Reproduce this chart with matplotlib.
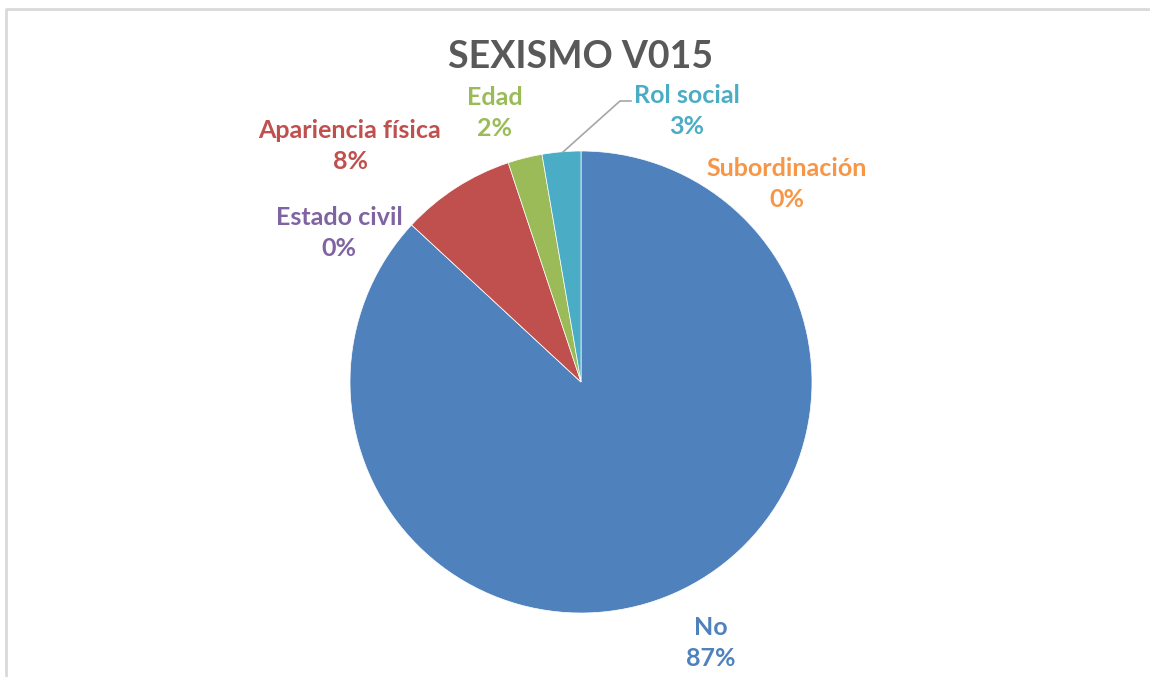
import matplotlib
matplotlib.use('Agg')
import matplotlib.pyplot as plt
from matplotlib.lines import Line2D

# datos (orden de Excel: en sentido horario desde arriba)
categorias = ['Subordinación', 'No', 'Estado civil', 'Apariencia física', 'Edad', 'Rol social']
valores = [0.0, 86.9, 0.0, 8.0, 2.4, 2.7]
colores = ['#F79646', '#4F81BD', '#8064A2', '#C0504D', '#9BBB59', '#4BACC6']
# posición de cada etiqueta (centro, en píxeles desde arriba-izquierda)
pos_etiquetas = [(787, 184), (711, 643), (339, 233), (350, 146), (495, 113), (687, 111)]

W, H = 1150, 677
fig = plt.figure(figsize=(W / 100, H / 100), dpi=100)
ax = fig.add_axes([0, 0, 1, 1])

fam = ['Lato', 'DejaVu Sans']
cx, cy, r = 581, H - 382, 231
ax.pie(valores, colors=colores, startangle=90, counterclock=False,
       center=(cx, cy), radius=r, frame=True,
       wedgeprops=dict(linewidth=0.5, edgecolor='white'))
ax.set_xlim(0, W); ax.set_ylim(0, H); ax.axis('off'); ax.set_aspect('equal')

for cat, v, col, (x, y) in zip(categorias, valores, colores, pos_etiquetas):
    ax.text(x, H - y, f'{cat}\n{round(v):.0f}%', color=col, ha='center', va='center',
            fontsize=18, fontweight='bold', family=fam, linespacing=1.45)

# línea guía de "Rol social"
ax.add_line(Line2D([563, 620, 631], [H - 152, H - 101, H - 101], color='#A6A6A6', lw=1.2))

ax.text(581, H - 57, 'SEXISMO V015', ha='center', va='center', fontsize=27,
        fontweight='bold', color='#595959', family=fam)

# borde del área del gráfico
ax.add_line(Line2D([6, 6, W], [0, H - 9, H - 9], color='#D9D9D9', lw=2))

fig.savefig('out.png', dpi=100)
